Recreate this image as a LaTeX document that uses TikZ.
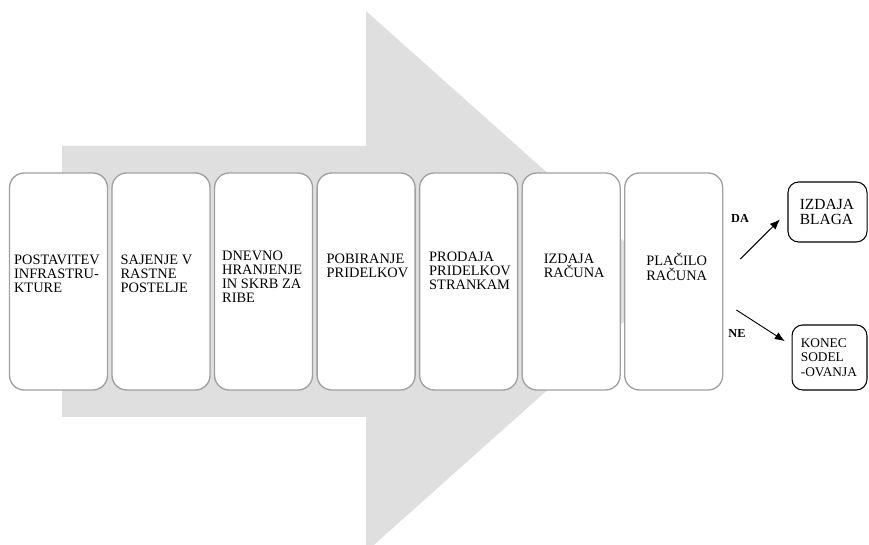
\documentclass[tikz,border=0pt]{standalone}
\usepackage{fontspec}
\setmainfont{Liberation Serif}
\usetikzlibrary{calc, positioning, arrows.meta}

\definecolor{puscica}{HTML}{DFDFDF}
\definecolor{robkorak}{HTML}{A0A0A0}

\begin{document}
\begin{tikzpicture}[>={Latex[length=7.5pt,width=6pt]}, x=0.75pt, y=-0.75pt,
    korak/.style={draw=robkorak, line width=1pt, rounded corners=11pt, fill=white,
        minimum width=73.5pt, minimum height=162.75pt, inner sep=0pt},
    napis/.style={anchor=north west, align=left, inner sep=0pt,
        font=\fontsize{10.8}{10.6}\selectfont,
        execute at begin node=\vphantom{Č}},
    izid/.style={draw, line width=0.8pt, rounded corners=8pt, align=left},
    odgovor/.style={font=\bfseries\fontsize{9.2}{10}\selectfont, inner sep=0pt}]
    \useasboundingbox (0,0) rectangle (869,545);

    % Velika siva puščica v ozadju
    \fill[puscica] (62,146) -- (366,146) -- (366,11) -- (669,281.5)
        -- (366,552) -- (366,417) -- (62,417) -- cycle;

    % Koraki procesa
    \node[korak] (s1) at (58.5,281.5) {};
    \node[korak, right=2.4pt of s1] (s2) {};
    \node[korak, right=2.4pt of s2] (s3) {};
    \node[korak, right=2.4pt of s3] (s4) {};
    \node[korak, right=2.4pt of s4] (s5) {};
    \node[korak, right=2.4pt of s5] (s6) {};
    \node[korak, right=2.4pt of s6] (s7) {};

    % Besedila v korakih
    \node[napis] (t1) at ($(s1.north west)+(5,82)$) {POSTAVITEV\\INFRASTRU-\\KTURE};
    \node[napis] (t2) at ($(s2.north west)+(9,82)$) {SAJENJE V\\RASTNE\\POSTELJE};
    \node[napis] (t3) at ($(s3.north west)+(8,78)$) {DNEVNO\\HRANJENJE\\IN SKRB ZA\\RIBE};
    \node[napis] (t4) at ($(s4.north west)+(10,81)$) {POBIRANJE\\PRIDELKOV};
    \node[napis] (t5) at ($(s5.north west)+(10,79)$) {PRODAJA\\PRIDELKOV\\STRANKAM};
    \node[napis] (t6) at ($(s6.north west)+(22,81)$) {IZDAJA\\RAČUNA};
    \node[napis] (t7) at ($(s7.north west)+(22,81)$) {PLAČILO\\RAČUNA};

    % Izida plačila
    \node[izid, font=\fontsize{11.6}{11.2}\selectfont, text width=41.5pt,
        inner xsep=8.9pt, minimum height=45pt] (blago)
        at (827.5,212) {IZDAJA\\BLAGA};
    \node[izid, font=\fontsize{10}{10.9}\selectfont, text width=43pt,
        inner xsep=6.6pt, minimum height=48.75pt] (konec)
        at (829.5,357.5) {KONEC\\SODEL\\-OVANJA};

    \coordinate (da) at ($(s7.east)+(17,-22.5)$);
    \coordinate (ne) at ($(s7.east)+(13,28.5)$);
    \draw[->, line width=0.7pt, shorten >=8pt] (da) -- (blago.west);
    \draw[->, line width=0.7pt, shorten >=6pt] (ne) -- ($(konec.west)+(0,-12)$);
    \node[odgovor] (lda) at (740,218) {DA};
    \node[odgovor] (lne) at (737,333) {NE};
\end{tikzpicture}
\end{document}
